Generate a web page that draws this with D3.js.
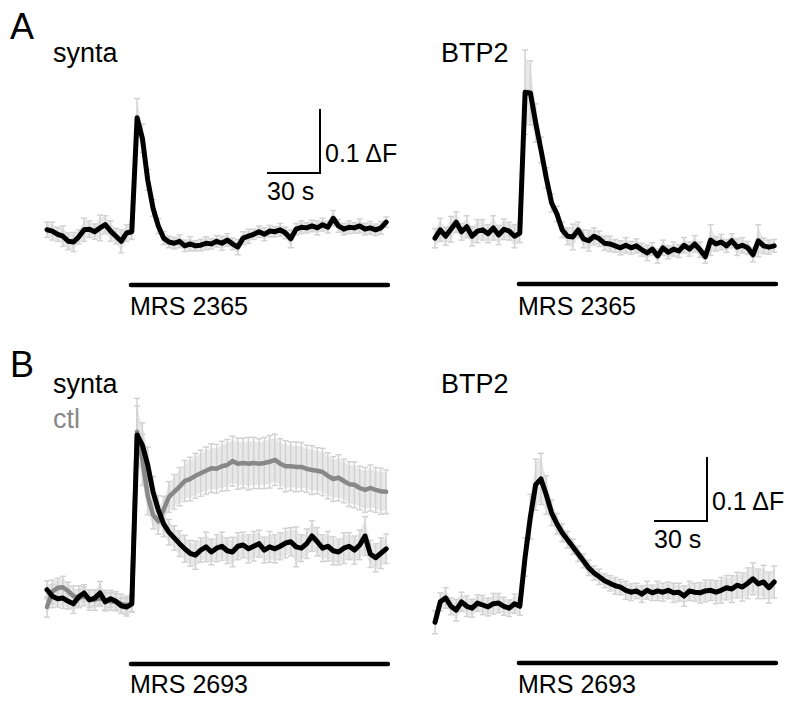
<!DOCTYPE html>
<html>
<head>
<meta charset="utf-8">
<script src="https://cdn.jsdelivr.net/npm/d3@7"></script>
<style>
  body { margin: 0; background: #fff; }
  text { font-family: "Liberation Sans", Arial, sans-serif; }
</style>
</head>
<body>
<svg id="chart" width="800" height="706"></svg>
<script>
// sample times (s), 3 s apart
const time = [0, 3, 6, 9, 12, 15, 18, 21, 24, 27, 30, 33, 36,
  39, 42, 45, 48, 51, 54, 57, 60, 63, 66, 69, 72, 75,
  78, 81, 84, 87, 90, 93, 96, 99, 102, 105, 108, 111, 114,
  117, 120, 123, 126, 129, 132, 135, 138, 141, 144, 147, 150, 153,
  156, 159, 162, 165, 168, 171, 174, 177, 180, 183, 186, 189, 192];

const stimStart = 47.5;
const stimEnd = 193;

// A, synta (dF)
const aSynta = [0.005, 0.003, -0.002, -0.005, -0.013, -0.014, -0.006, 0.005, 0.006, 0.002, 0.008, 0.013, 0.003,
  -0.005, -0.013, 0, 0.002, 0.180, 0.148, 0.083, 0.039, 0.011, -0.008, -0.014, -0.016, -0.013,
  -0.020, -0.017, -0.020, -0.019, -0.016, -0.017, -0.013, -0.016, -0.011, -0.017, -0.022, -0.008, -0.005,
  -0.002, 0.002, -0.002, 0.003, 0.002, 0.005, 0, -0.009, 0.006, 0.009, 0.008, 0.011, 0.008,
  0.013, 0.009, 0.023, 0.011, 0.006, 0.009, 0.008, 0.011, 0.006, 0.008, 0.005, 0.008, 0.017];
const aSyntaSem = [0.012, 0.014, 0.011, 0.016, 0.013, 0.015, 0.011, 0.018, 0.013, 0.012, 0.020, 0.014, 0.016,
  0.012, 0.018, 0.013, 0.012, 0.030, 0.022, 0.016, 0.013, 0.012, 0.010, 0.009, 0.009, 0.010,
  0.009, 0.011, 0.008, 0.009, 0.010, 0.008, 0.009, 0.011, 0.010, 0.009, 0.012, 0.010, 0.011,
  0.008, 0.009, 0.010, 0.009, 0.008, 0.010, 0.009, 0.014, 0.009, 0.010, 0.008, 0.009, 0.011,
  0.010, 0.009, 0.012, 0.010, 0.009, 0.010, 0.008, 0.011, 0.009, 0.010, 0.009, 0.010, 0.008];

// A, BTP2
const aBtp2 = [-0.005, 0.008, -0.002, 0.009, 0.020, 0.005, 0.013, -0.002, 0.006, 0.008, 0.002, 0.011, 0,
  0.009, 0.006, -0.002, 0.003, 0.223, 0.222, 0.175, 0.133, 0.089, 0.050, 0.033, 0.008, -0.002,
  -0.003, 0.008, -0.006, -0.009, -0.002, -0.006, -0.013, -0.014, -0.017, -0.020, -0.016, -0.020, -0.017,
  -0.023, -0.028, -0.022, -0.033, -0.020, -0.027, -0.022, -0.025, -0.016, -0.022, -0.014, -0.023, -0.034,
  -0.008, -0.014, -0.011, -0.017, -0.009, -0.019, -0.016, -0.020, -0.031, -0.009, -0.017, -0.019, -0.017];
const aBtp2Sem = [0.015, 0.018, 0.014, 0.020, 0.016, 0.013, 0.017, 0.015, 0.018, 0.016, 0.014, 0.019, 0.015,
  0.016, 0.014, 0.018, 0.015, 0.066, 0.050, 0.030, 0.020, 0.016, 0.014, 0.012, 0.012, 0.013,
  0.020, 0.012, 0.014, 0.016, 0.013, 0.012, 0.011, 0.012, 0.010, 0.011, 0.012, 0.010, 0.011,
  0.010, 0.012, 0.010, 0.011, 0.012, 0.010, 0.011, 0.010, 0.012, 0.011, 0.013, 0.012, 0.010,
  0.024, 0.011, 0.012, 0.010, 0.011, 0.013, 0.012, 0.010, 0.011, 0.025, 0.012, 0.011, 0.010];

// B, synta
const bSynta = [0.016, 0.006, 0.002, 0.003, -0.002, -0.006, 0.005, 0.011, 0, 0.003, 0.011, -0.003, 0.002,
  -0.002, -0.009, -0.011, -0.006, 0.258, 0.242, 0.211, 0.169, 0.141, 0.119, 0.106, 0.097, 0.088,
  0.080, 0.073, 0.070, 0.078, 0.083, 0.075, 0.081, 0.084, 0.077, 0.075, 0.084, 0.086, 0.080,
  0.084, 0.088, 0.078, 0.083, 0.080, 0.084, 0.089, 0.091, 0.083, 0.081, 0.088, 0.100, 0.091,
  0.081, 0.084, 0.077, 0.075, 0.081, 0.084, 0.078, 0.086, 0.100, 0.072, 0.066, 0.073, 0.080];
const bSyntaSem = [0.014, 0.018, 0.013, 0.016, 0.012, 0.015, 0.017, 0.013, 0.016, 0.012, 0.018, 0.014, 0.013,
  0.015, 0.012, 0.014, 0.012, 0.045, 0.035, 0.028, 0.024, 0.022, 0.020, 0.020, 0.019, 0.020,
  0.021, 0.020, 0.022, 0.019, 0.023, 0.020, 0.021, 0.022, 0.020, 0.023, 0.021, 0.020, 0.022,
  0.023, 0.021, 0.020, 0.024, 0.022, 0.021, 0.023, 0.022, 0.031, 0.021, 0.023, 0.024, 0.022,
  0.021, 0.023, 0.022, 0.020, 0.024, 0.021, 0.022, 0.023, 0.030, 0.021, 0.022, 0.024, 0.023];

// B, ctl
const bCtl = [-0.011, 0.013, 0.019, 0.020, 0.014, 0.006, 0.003, 0.006, 0.002, 0, 0.003, 0, -0.002,
  -0.003, -0.006, -0.008, -0.006, 0.263, 0.219, 0.163, 0.133, 0.123, 0.141, 0.161, 0.169, 0.177,
  0.186, 0.189, 0.194, 0.198, 0.202, 0.206, 0.205, 0.209, 0.211, 0.217, 0.213, 0.214, 0.213,
  0.214, 0.213, 0.214, 0.216, 0.219, 0.213, 0.209, 0.209, 0.208, 0.208, 0.205, 0.203, 0.202,
  0.200, 0.194, 0.189, 0.191, 0.186, 0.181, 0.180, 0.175, 0.172, 0.175, 0.172, 0.170, 0.169];
const bCtlSem = [0.016, 0.018, 0.015, 0.017, 0.014, 0.016, 0.013, 0.015, 0.014, 0.016, 0.013, 0.015, 0.014,
  0.013, 0.015, 0.014, 0.013, 0.052, 0.040, 0.030, 0.022, 0.020, 0.021, 0.024, 0.027, 0.030,
  0.032, 0.034, 0.035, 0.036, 0.037, 0.038, 0.038, 0.039, 0.040, 0.039, 0.040, 0.039, 0.041,
  0.040, 0.039, 0.040, 0.041, 0.040, 0.039, 0.040, 0.038, 0.039, 0.038, 0.037, 0.038, 0.036,
  0.037, 0.036, 0.035, 0.036, 0.034, 0.035, 0.036, 0.034, 0.035, 0.036, 0.035, 0.036, 0.034];

// B, BTP2
const bBtp2 = [-0.027, 0.005, 0.011, -0.002, -0.008, 0.005, -0.002, -0.005, 0.003, 0, -0.003, 0.002, 0.003,
  -0.002, -0.005, 0.002, -0.002, 0.075, 0.138, 0.188, 0.197, 0.172, 0.144, 0.127, 0.113, 0.102,
  0.091, 0.080, 0.069, 0.058, 0.050, 0.044, 0.038, 0.034, 0.030, 0.028, 0.023, 0.020, 0.022,
  0.017, 0.023, 0.019, 0.022, 0.020, 0.023, 0.019, 0.020, 0.014, 0.022, 0.020, 0.019, 0.022,
  0.023, 0.020, 0.023, 0.027, 0.025, 0.031, 0.028, 0.034, 0.041, 0.033, 0.036, 0.027, 0.036];
const bBtp2Sem = [0.018, 0.014, 0.016, 0.013, 0.017, 0.015, 0.016, 0.014, 0.013, 0.015, 0.014, 0.016, 0.015,
  0.014, 0.013, 0.015, 0.014, 0.030, 0.035, 0.040, 0.040, 0.030, 0.020, 0.016, 0.014, 0.013,
  0.012, 0.012, 0.011, 0.012, 0.011, 0.012, 0.011, 0.012, 0.013, 0.012, 0.014, 0.013, 0.012,
  0.013, 0.014, 0.012, 0.015, 0.014, 0.013, 0.015, 0.014, 0.016, 0.015, 0.014, 0.016, 0.017,
  0.016, 0.018, 0.020, 0.019, 0.021, 0.020, 0.022, 0.024, 0.025, 0.023, 0.026, 0.024, 0.025];

const svg = d3.select("#chart");
svg.append("rect").attr("width", 800).attr("height", 706).attr("fill", "#fff");

const pxPerSec = 53 / 30;
const pxPerDF = 640;
const errColor = "#d2d2d2";
const bandColor = "#e8e8e8";

const panels = [
  { x0: 47, base: 233, title: "synta", titleY: 62, stimY: 285, stimText: "MRS 2365", textY: 315,
    traces: [{ v: aSynta, sem: aSyntaSem, color: "#000", w: 5 }],
    scaleBar: { x: 320, y: 173 } },
  { x0: 435, base: 235, title: "BTP2", titleY: 62, stimY: 284, stimText: "MRS 2365", textY: 315,
    traces: [{ v: aBtp2, sem: aBtp2Sem, color: "#000", w: 5 }] },
  { x0: 47, base: 600, title: "synta", titleY: 393, stimY: 664, stimText: "MRS 2693", textY: 693,
    traces: [{ v: bCtl, sem: bCtlSem, color: "#888", w: 4.5 },
             { v: bSynta, sem: bSyntaSem, color: "#000", w: 5 }],
    ctl: true },
  { x0: 435, base: 605, title: "BTP2", titleY: 393, stimY: 663, stimText: "MRS 2693", textY: 693,
    traces: [{ v: bBtp2, sem: bBtp2Sem, color: "#000", w: 5 }],
    scaleBar: { x: 707, y: 521 } }
];

// panel letters
svg.append("text").attr("x", 10).attr("y", 39).style("font-size", "36px").text("A");
svg.append("text").attr("x", 10).attr("y", 377).style("font-size", "36px").text("B");

panels.forEach(p => {
  const x = d3.scaleLinear().domain([0, stimEnd]).range([p.x0, p.x0 + stimEnd * pxPerSec]);
  const y = d3.scaleLinear().domain([0, 0.1]).range([p.base, p.base - 0.1 * pxPerDF]);
  const g = svg.append("g");

  // SEM: faint band plus capped bars
  const band = d3.area()
    .x((d, i) => x(time[i]))
    .y0(d => y(d.v - d.s))
    .y1(d => y(d.v + d.s));
  p.traces.forEach(tr => {
    g.append("path")
      .datum(tr.v.map((v, i) => ({ v: v, s: tr.sem[i] * 0.85 })))
      .attr("d", band)
      .attr("fill", bandColor);
  });
  p.traces.forEach(tr => {
    const eb = g.append("g").attr("stroke", errColor).attr("stroke-width", 1.5);
    tr.v.forEach((v, i) => {
      const xi = x(time[i]);
      const lo = y(v - tr.sem[i]), hi = y(v + tr.sem[i]);
      eb.append("line").attr("x1", xi).attr("x2", xi).attr("y1", lo).attr("y2", hi);
      eb.append("line").attr("x1", xi - 3).attr("x2", xi + 3).attr("y1", lo).attr("y2", lo);
      eb.append("line").attr("x1", xi - 3).attr("x2", xi + 3).attr("y1", hi).attr("y2", hi);
    });
  });

  const line = d3.line().x((d, i) => x(time[i])).y(d => y(d));
  p.traces.forEach(tr => {
    g.append("path")
      .datum(tr.v)
      .attr("d", line)
      .attr("fill", "none")
      .attr("stroke", tr.color)
      .attr("stroke-width", tr.w)
      .attr("stroke-linejoin", "round")
      .attr("stroke-linecap", "round");
  });

  // drug application bar
  g.append("line")
    .attr("x1", x(stimStart)).attr("x2", x(stimEnd))
    .attr("y1", p.stimY).attr("y2", p.stimY)
    .attr("stroke", "#000").attr("stroke-width", 4.5).attr("stroke-linecap", "round");
  g.append("text")
    .attr("x", x(stimStart) - 1).attr("y", p.textY)
    .style("font-size", "25px")
    .text(p.stimText);

  g.append("text").attr("x", p.x0 + 6).attr("y", p.titleY).style("font-size", "27px").text(p.title);
  if (p.ctl) {
    g.append("text").attr("x", p.x0 + 6).attr("y", p.titleY + 35)
      .style("font-size", "27px").attr("fill", "#888").text("ctl");
  }

  if (p.scaleBar) {
    const sb = p.scaleBar;
    const vLen = y(0) - y(0.1);
    const hLen = x(30) - x(0);
    g.append("path")
      .attr("d", `M${sb.x - hLen},${sb.y}H${sb.x}V${sb.y - vLen}`)
      .attr("fill", "none").attr("stroke", "#000").attr("stroke-width", 2);
    g.append("text").attr("x", sb.x + 5).attr("y", sb.y - 11)
      .style("font-size", "25px").text("0.1 \u0394F");
    g.append("text").attr("x", sb.x - hLen).attr("y", sb.y + 27)
      .style("font-size", "25px").text("30 s");
  }
});
</script>
</body>
</html>
